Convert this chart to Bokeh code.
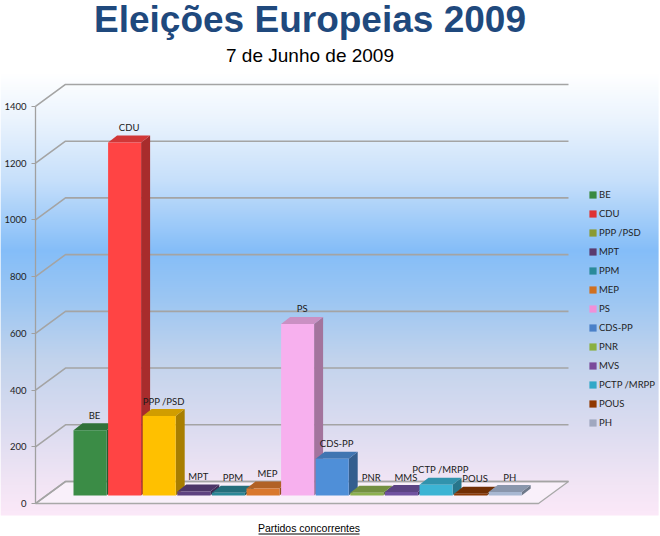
import numpy as np
from bokeh.plotting import figure
from bokeh.models import Range1d, LinearAxis, FixedTicker, ColumnDataSource, Legend, LegendItem
from bokeh.core.properties import value
from bokeh.embed import file_html
from bokeh.resources import INLINE

# ---------------- data ----------------
parties = ["BE", "CDU", "PPP /PSD", "MPT", "PPM", "MEP", "PS", "CDS-PP",
           "PNR", "MMS", "PCTP /MRPP", "POUS", "PH"]
legend_names = ["BE", "CDU", "PPP /PSD", "MPT", "PPM", "MEP", "PS", "CDS-PP",
                "PNR", "MVS", "PCTP /MRPP", "POUS", "PH"]
votes = [230, 1245, 280, 14, 10, 25, 605, 130, 10, 12, 38, 6, 12]
bar_colors = ["#3b8c46", "#ff4444", "#ffc000", "#5e4280", "#2c8797", "#d9782e",
              "#f7b0ee", "#4f8fd8", "#8db050", "#7052a0", "#3cb4d4", "#8b3a06", "#a8b8d2"]
legend_colors = ["#3a8a40", "#e03333", "#8a9a32", "#5a3a6e", "#2a8a9a", "#d07020",
                 "#f090d8", "#4a80c8", "#8ab040", "#7a4a9a", "#30a8c8", "#903800", "#a0a8c0"]
y_ticks = [0, 200, 400, 600, 800, 1000, 1200, 1400]
title_text = "Eleições Europeias 2009"
subtitle_text = "7 de Junho de 2009"
x_label_text = "Partidos concorrentes"

# ---------------- geometry (page pixels -> data) ----------------
W, H = 660, 536
SLOT_PX = 34.6
X0_PX = 73.0
ZERO_PY = 503.0
PX_PER_UNIT = 0.2836


def X(px):
    return (px - X0_PX) / SLOT_PX


def Y(py):
    return (ZERO_PY - py) / PX_PER_UNIT


def dX(px):
    return px / SLOT_PX


def dY(px):
    return px / PX_PER_UNIT


def shade(hexc, f):
    h = hexc.lstrip("#")
    r, g, b = (int(h[k:k + 2], 16) for k in (0, 2, 4))
    return "#%02x%02x%02x" % (int(r * f), int(g * f), int(b * f))


def mix(c1, c2, t):
    a = [int(c1[k:k + 2], 16) for k in (1, 3, 5)]
    b = [int(c2[k:k + 2], 16) for k in (1, 3, 5)]
    return "#%02x%02x%02x" % tuple(int(round(a[j] + (b[j] - a[j]) * t)) for j in range(3))


p = figure(width=W, height=H, x_range=Range1d(X(0), X(W)), y_range=Range1d(Y(H), Y(0)),
           output_backend="svg", toolbar_location=None, x_axis_location=None, y_axis_location=None,
           min_border=0, outline_line_color=None, background_fill_color="white",
           border_fill_color="white")
p.xgrid.visible = False
p.ygrid.visible = False

# ---------------- background gradient ----------------
stops = [(72, "#ffffff"), (120, "#eaf3fd"), (180, "#c6dffa"), (250, "#84bdf8"),
         (300, "#9cc6f2"), (360, "#c2d3ec"), (430, "#dcdcf0"), (480, "#f0e4f4"), (515, "#fbe8f8")]
g_top, g_bot, g_col = [], [], []
for py in range(72, 515):
    for k in range(len(stops) - 1):
        if stops[k][0] <= py < stops[k + 1][0]:
            t = (py - stops[k][0]) / (stops[k + 1][0] - stops[k][0])
            g_col.append(mix(stops[k][1], stops[k + 1][1], t))
            break
    g_top.append(Y(py - 0.4))
    g_bot.append(Y(py + 1))
p.quad(left=X(0), right=X(658), top=g_top, bottom=g_bot, fill_color=g_col, line_color=None)

# ---------------- 3D frame: floor, walls, gridlines ----------------
AX = X(35)          # front y-axis
DXd, DYd = dX(30), dY(22)  # depth of the chart box
FRONT_R = X(538)
p.patch([AX, FRONT_R, FRONT_R + DXd, AX + DXd], [0, 0, DYd, DYd],
        fill_color="#f9f0fa", line_color="#a8a8a8", line_width=1.3)
gx, gy = [], []
for v in y_ticks:
    gx.append([AX, AX + DXd, FRONT_R + DXd])
    gy.append([v, v + DYd, v + DYd])
p.multi_line(gx, gy, line_color="#a4a4a4", line_width=1.6)

# ---------------- bars ----------------
n = len(votes)
idx = np.arange(n, dtype=float)
v = np.array(votes, dtype=float)
w = dX(33)
ddx, ddy = dX(9), dY(7)
B = dY(8)

side_xs = [[i + w, i + w + ddx, i + w + ddx, i + w] for i in idx]
side_ys = [[B, B + ddy, B + ddy + h, B + h] for h in v]
top_xs = [[i, i + ddx, i + w + ddx, i + w] for i in idx]
top_ys = [[B + h, B + h + ddy, B + h + ddy, B + h] for h in v]
p.patches(side_xs, side_ys, fill_color=[shade(c, 0.66) for c in bar_colors], line_color=None)
p.patches(top_xs, top_ys, fill_color=[shade(c, 0.82) for c in bar_colors], line_color=None)
src = ColumnDataSource(dict(left=idx, right=idx + w, bottom=[B] * n, top=B + v,
                            color=bar_colors))
p.quad(left="left", right="right", bottom="bottom", top="top", fill_color="color",
       line_color=None, source=src)

# bar labels
p.text(x=idx + (w + ddx) / 2, y=B + v + ddy + dY(8), text=parties,
       text_font=value("Lato"), text_font_size="9.5px", text_align="center",
       text_baseline="middle", text_color="#1a1a1a")

# ---------------- y axis ----------------
yaxis = LinearAxis(fixed_location=AX, bounds=(0, 1400), ticker=FixedTicker(ticks=y_ticks))
yaxis.axis_line_color = "#a0a0a0"
yaxis.axis_line_width = 1.3
yaxis.major_tick_line_color = "#a0a0a0"
yaxis.major_tick_out = 4
yaxis.major_tick_in = 0
yaxis.minor_tick_line_color = None
yaxis.major_label_standoff = 5
yaxis.major_label_text_font = "Lato"
yaxis.major_label_text_font_size = "9.5px"
yaxis.major_label_text_color = "#222222"
p.add_layout(yaxis, "left")

# ---------------- legend (swatch renderers sit outside the visible range) ----------------
items = []
off = Y(H) - 500
for name, col in zip(legend_names, legend_colors):
    r = p.quad(left=[0], right=[0.5], top=[off], bottom=[off - 10], fill_color=col,
               line_color=None)
    items.append(LegendItem(label=name, renderers=[r]))
legend = Legend(items=items, location=(588, 108), padding=0, margin=0, spacing=7,
                label_height=12, glyph_height=9, glyph_width=9, label_standoff=2,
                label_text_font="Lato", label_text_font_size="9.5px",
                label_text_color="#1f1f1f", background_fill_alpha=0, border_line_alpha=0)
p.add_layout(legend)

# ---------------- titles ----------------
p.text(x=[X(309.5)], y=[Y(18.5)], text=[title_text], text_font=value("Liberation Sans"),
       text_font_style="bold", text_font_size="37px", text_align="center",
       text_baseline="middle", text_color="#1f497d")
p.text(x=[X(309.5)], y=[Y(54.5)], text=[subtitle_text], text_font=value("Liberation Sans"),
       text_font_size="19px", text_align="center", text_baseline="middle",
       text_color="#000000")
p.text(x=[X(308.5)], y=[Y(527)], text=[x_label_text], text_font=value("Liberation Sans"),
       text_font_size="10.5px", text_align="center", text_baseline="middle",
       text_color="#000000")
p.segment(x0=[X(258)], x1=[X(359)], y0=[Y(533.5)], y1=[Y(533.5)], line_color="#000000",
          line_width=1)

open("out.html", "w").write(file_html(p, INLINE))
